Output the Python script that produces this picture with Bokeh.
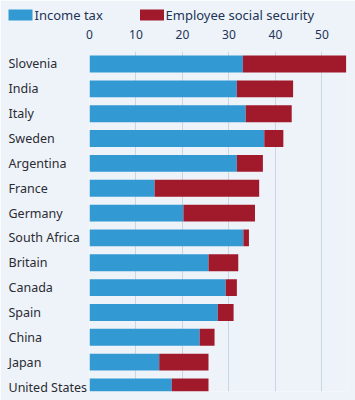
from bokeh.plotting import figure
from bokeh.models import ColumnDataSource, FixedTicker, Range1d
from bokeh.core.properties import value
from bokeh.embed import file_html
from bokeh.resources import INLINE

countries = ["Slovenia", "India", "Italy", "Sweden", "Argentina", "France", "Germany",
             "South Africa", "Britain", "Canada", "Spain", "China", "Japan", "United States"]
income_tax = [33.0, 31.7, 33.6, 37.6, 31.7, 14.0, 20.2, 33.1, 25.6, 29.3, 27.6, 23.7, 15.0, 17.7]
social_security = [22.2, 12.1, 9.9, 4.1, 5.6, 22.5, 15.4, 1.2, 6.4, 2.4, 3.4, 3.2, 10.6, 7.9]
series_names = ["Income tax", "Employee social security"]
ticks = [0, 10, 20, 30, 40, 50]

totals = [a + b for a, b in zip(income_tax, social_security)]
idx = list(range(len(countries)))
src = ColumnDataSource(dict(country=countries, idx=idx, inc=income_tax, tot=totals))

BG = "#eef3f9"
BLUE = "#3399d3"
RED = "#a11a2b"
FONT = "Noto Sans"

# frame geometry (pixels)
W, H = 355, 400
LEFT, RIGHT, TOP, BOTTOM = 89, 8, 51, 9
X_END = 55.5
Y_START, Y_END = 13.181, -0.503
fw, fh = W - LEFT - RIGHT, H - TOP - BOTTOM
ppx = fw / X_END
ppy = fh / (Y_START - Y_END)

def px_to_x(px):
    return (px - LEFT) / ppx

def py_to_y(py):
    return Y_END + (py - TOP) / ppy

p = figure(x_range=(0, X_END), y_range=Range1d(Y_START, Y_END),
           width=W, height=H, output_backend="svg", toolbar_location=None,
           x_axis_location="above", min_border_left=LEFT, min_border_right=RIGHT,
           min_border_top=TOP, min_border_bottom=BOTTOM)
p.background_fill_color = BG
p.border_fill_color = BG
p.outline_line_color = None

p.hbar(y="idx", left=0, right="inc", height=0.68, source=src,
       fill_color=BLUE, line_color=None)
p.hbar(y="idx", left="inc", right="tot", height=0.68, source=src,
       fill_color=RED, line_color=None)

# country labels, left-aligned at the page edge
lbl = p.text(x=0, y="idx", text="country", source=src, x_offset=-81,
             text_align="left", text_baseline="middle",
             text_font=value(FONT), text_font_size="12.5px", text_color="#2b2b33")
lbl.level = "overlay"

# legend (drawn above the frame)
leg_y = py_to_y(14.5)
leg_src = ColumnDataSource(dict(
    y=[leg_y, leg_y],
    cx=[px_to_x(20), px_to_x(151.5)],
    tx=[px_to_x(34), px_to_x(165)],
    name=series_names,
    color=[BLUE, RED]))
sw = p.rect(x="cx", y="y", width=24, height=11, width_units="screen",
            height_units="screen", source=leg_src, fill_color="color", line_color=None)
sw.level = "overlay"
lt = p.text(x="tx", y="y", text="name", source=leg_src, text_align="left",
            text_baseline="middle", text_font=value(FONT), text_font_size="13px",
            text_color="#1d3357")
lt.level = "overlay"

p.xgrid.ticker = FixedTicker(ticks=ticks)
p.xgrid.grid_line_color = "#c9d6e4"
p.ygrid.grid_line_color = None

xa = p.xaxis[0]
xa.ticker = FixedTicker(ticks=ticks)
xa.axis_line_color = None
xa.major_tick_line_color = None
xa.minor_tick_line_color = None
xa.major_label_text_color = "#1d3357"
xa.major_label_text_font = FONT
xa.major_label_text_font_size = "12px"
xa.major_label_standoff = 7

p.yaxis.visible = False

open("out.html", "w").write(file_html(p, INLINE))
